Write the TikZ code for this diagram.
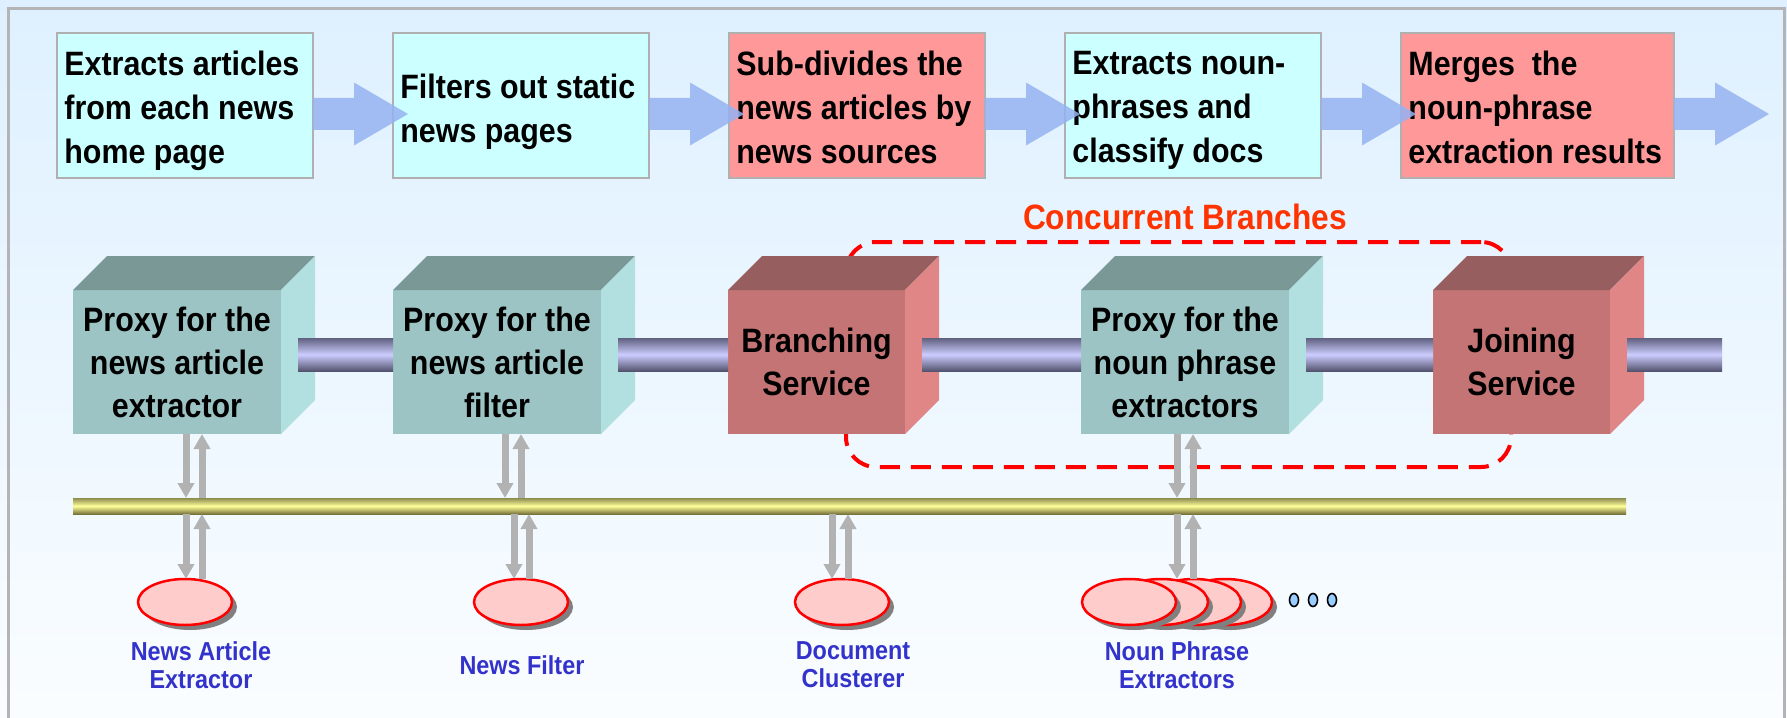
\documentclass[tikz,border=0pt]{standalone}
\usepackage{fontspec}
\setmainfont{Liberation Sans}[FakeStretch=0.9]
\usetikzlibrary{arrows.meta,shadows,shapes.geometric,calc}
\definecolor{bgtop}{RGB}{222,240,255}
\definecolor{bgbot}{RGB}{250,253,255}
\definecolor{framec}{RGB}{180,180,180}
\definecolor{boxcyan}{RGB}{204,255,255}
\definecolor{boxred}{RGB}{255,153,153}
\definecolor{boxline}{RGB}{176,176,176}
\definecolor{barrowc}{RGB}{150,178,242}
\definecolor{cyF}{RGB}{156,196,196}
\definecolor{cyT}{RGB}{122,152,150}
\definecolor{cyS}{RGB}{178,224,224}
\definecolor{rdF}{RGB}{196,116,116}
\definecolor{rdT}{RGB}{150,94,94}
\definecolor{rdS}{RGB}{224,134,134}
\definecolor{pipeD}{RGB}{96,96,128}
\definecolor{pipeDb}{RGB}{84,84,112}
\definecolor{pipeL}{RGB}{204,204,255}
\definecolor{busD}{RGB}{140,140,80}
\definecolor{busDb}{RGB}{118,114,58}
\definecolor{busL}{RGB}{255,255,153}
\definecolor{garrowc}{RGB}{178,178,178}
\definecolor{ellfill}{RGB}{255,204,204}
\definecolor{shadowc}{RGB}{128,128,128}
\definecolor{dotfill}{RGB}{153,204,255}
\definecolor{lblue}{RGB}{51,51,204}
\definecolor{concur}{RGB}{255,51,0}
\newcommand\cubefaces[3]{%
  \fill[#2] (#1.north west) -- ([shift={(17pt,17pt)}]#1.north west) -- ([shift={(17pt,17pt)}]#1.north east) -- (#1.north east) -- cycle;
  \fill[#3] (#1.north east) -- ([shift={(17pt,17pt)}]#1.north east) -- ([shift={(17pt,17pt)}]#1.south east) -- (#1.south east) -- cycle;}
\newcommand\blockarrow[1]{%
  \fill[barrow] ([yshift=-4.25pt]#1.east) ++(0,8pt) -- ++(20.5pt,0) -- ++(0,7.75pt) -- ++(27pt,-15.75pt) -- ++(-27pt,-15.75pt) -- ++(0,7.75pt) -- ++(-20.5pt,0) -- cycle;}
\begin{document}
\begin{tikzpicture}[x=0.5pt,y=-0.5pt,
  topbox/.style={draw=boxline, line width=1pt, minimum height=72.5pt, minimum width=128pt, inner sep=0pt, outer sep=0pt},
  toptext/.style={anchor=north west, inner sep=0pt, align=left, font=\fontsize{16.9pt}{22pt}\selectfont\bfseries},
  barrow/.style={fill=barrowc, fill opacity=0.85},
  cubefront/.style={minimum height=72pt, inner sep=0pt, outer sep=0pt, align=center, font=\fontsize{16.9pt}{21.5pt}\selectfont\bfseries},
  cyancube/.style={cubefront, fill=cyF, minimum width=104pt},
  redcube/.style={cubefront, fill=rdF, minimum width=88.5pt},
  pipe/.style={top color=pipeD, bottom color=pipeDb, middle color=pipeL},
  garrow/.style={draw=garrowc, line width=3.5pt, -{Triangle[width=8pt,length=7.5pt]}},
  ell/.style={ellipse, minimum width=47pt, minimum height=23pt, inner sep=0pt, outer sep=0pt, draw=red, line width=1.25pt, fill=ellfill, drop shadow={shadow xshift=2.5pt, shadow yshift=-2.5pt, fill=shadowc, opacity=1}},
  smalldot/.style={ellipse, minimum width=4.5pt, minimum height=6.5pt, inner sep=0pt, draw=black, line width=0.8pt, fill=dotfill},
  lbl/.style={align=center, text=lblue, inner sep=0pt, font=\fontsize{13pt}{14pt}\selectfont\bfseries}
]
\useasboundingbox (0,0) rectangle (1787,717);
\shade[top color=bgtop, bottom color=bgbot] (0,0) rectangle (1787,717);
\draw[framec, line width=1.5pt] (8,730) -- (8,9) -- (1784,9) -- (1784,730);

% concurrent branches
\node[draw=red, line width=2pt, dash pattern=on 10pt off 5.5pt, rounded corners=15pt, minimum width=332.5pt, minimum height=112.5pt, inner sep=0pt] (cbox) at (1178.5,354.5) {};
\node[anchor=base, text=concur, inner sep=0pt, font=\fontsize{17.6pt}{20pt}\selectfont\bfseries] (cblabel) at (1185,229) {Concurrent Branches};

% top row
\node[topbox, fill=boxcyan] (b1) at (185,105.5) {};
\node[topbox, fill=boxcyan] (b2) at (521,105.5) {};
\node[topbox, fill=boxred] (b3) at (857,105.5) {};
\node[topbox, fill=boxcyan] (b4) at (1193,105.5) {};
\node[topbox, fill=boxred, minimum width=136.5pt] (b5) at (1537.5,105.5) {};
\node[toptext] (t1) at ([xshift=3.5pt,yshift=-8.9pt]b1.north west) {Extracts articles\\from each news\\home page};
\node[toptext] (t2) at ([xshift=3.5pt,yshift=-20.2pt]b2.north west) {Filters out static\\news pages};
\node[toptext] (t3) at ([xshift=3.5pt,yshift=-8.9pt]b3.north west) {Sub-divides the\\news articles by\\news sources};
\node[toptext] (t4) at ([xshift=3.5pt,yshift=-8.9pt]b4.north west) {Extracts noun-\\phrases and\\classify docs};
\node[toptext] (t5) at ([xshift=3.5pt,yshift=-8.9pt]b5.north west) {Merges\ \ the\\noun-phrase\\extraction results};
\blockarrow{b1}
\blockarrow{b2}
\blockarrow{b3}
\blockarrow{b4}
\blockarrow{b5}

% cubes
\node[cyancube] (c1) at (177,362) {Proxy for the\\news article\\extractor};
\cubefaces{c1}{cyT}{cyS}
\node[cyancube] (c2) at (497,362) {Proxy for the\\news article\\filter};
\cubefaces{c2}{cyT}{cyS}
\node[redcube] (c3) at (816.5,362) {Branching\\Service};
\cubefaces{c3}{rdT}{rdS}
\node[cyancube] (c4) at (1185,362) {Proxy for the\\noun phrase\\extractors};
\cubefaces{c4}{cyT}{cyS}
\node[redcube] (c5) at (1521.5,362) {Joining\\Service};
\cubefaces{c5}{rdT}{rdS}
\coordinate (pend) at (1722,371);

% pipes
\shade[pipe] ([xshift=8.5pt,yshift=12pt]c1.east) rectangle ([yshift=-4.5pt]c2.west);
\shade[pipe] ([xshift=8.5pt,yshift=12pt]c2.east) rectangle ([yshift=-4.5pt]c3.west);
\shade[pipe] ([xshift=8.5pt,yshift=12pt]c3.east) rectangle ([yshift=-4.5pt]c4.west);
\shade[pipe] ([xshift=8.5pt,yshift=12pt]c4.east) rectangle ([yshift=-4.5pt]c5.west);
\shade[pipe] ([xshift=8.5pt,yshift=12pt]c5.east) rectangle (pend);

% bus
\node[top color=busD, bottom color=busDb, middle color=busL, minimum width=776.5pt, minimum height=8pt, inner sep=0pt, outer sep=0pt] (bus) at (849.5,506) {};

% ellipses
\node[ell] (e1) at (185,602) {};
\node[ell] (e2) at (521,602) {};
\node[ell] (e3) at (842,602) {};
\node[ell] (e4d) at (1225,602) {};
\node[ell] (e4c) at (1194,602) {};
\node[ell] (e4b) at (1161,602) {};
\node[ell] (e4a) at (1129,602) {};
\node[smalldot] (d1) at (1294,600) {};
\node[smalldot] (d2) at (1313,600) {};
\node[smalldot] (d3) at (1332,600) {};

% arrow x positions
\coordinate (a1d) at (186,0);  \coordinate (a1u) at (202,0);
\coordinate (a2d) at (505,0);  \coordinate (a2u) at (521,0);
\coordinate (b2d) at (514,0);  \coordinate (b2u) at (529,0);
\coordinate (b3d) at (832,0);  \coordinate (b3u) at (848,0);
\coordinate (a4d) at (1177,0); \coordinate (a4u) at (1193,0);

\draw[garrow] (a1d |- c1.south) -- (a1d |- bus.north);
\draw[garrow] (a1u |- bus.north) -- (a1u |- c1.south);
\draw[garrow] (a1d |- bus.south) -- (a1d |- e1.north);
\draw[garrow] (a1u |- e1.north) -- (a1u |- bus.south);

\draw[garrow] (a2d |- c2.south) -- (a2d |- bus.north);
\draw[garrow] (a2u |- bus.north) -- (a2u |- c2.south);
\draw[garrow] (b2d |- bus.south) -- (b2d |- e2.north);
\draw[garrow] (b2u |- e2.north) -- (b2u |- bus.south);

\draw[garrow] (b3d |- bus.south) -- (b3d |- e3.north);
\draw[garrow] (b3u |- e3.north) -- (b3u |- bus.south);

\draw[garrow] (a4d |- c4.south) -- (a4d |- bus.north);
\draw[garrow] (a4u |- bus.north) -- (a4u |- c4.south);
\draw[garrow] (a4d |- bus.south) -- (a4d |- e4c.north);
\draw[garrow] (a4u |- e4c.north) -- (a4u |- bus.south);

% labels
\node[lbl] (l1) at (201,665) {News Article\\Extractor};
\node[lbl] (l2) at (522,665) {News Filter};
\node[lbl] (l3) at (853,665) {Document\\Clusterer};
\node[lbl] (l4) at (1177,665) {Noun Phrase\\Extractors};
\end{tikzpicture}
\end{document}
